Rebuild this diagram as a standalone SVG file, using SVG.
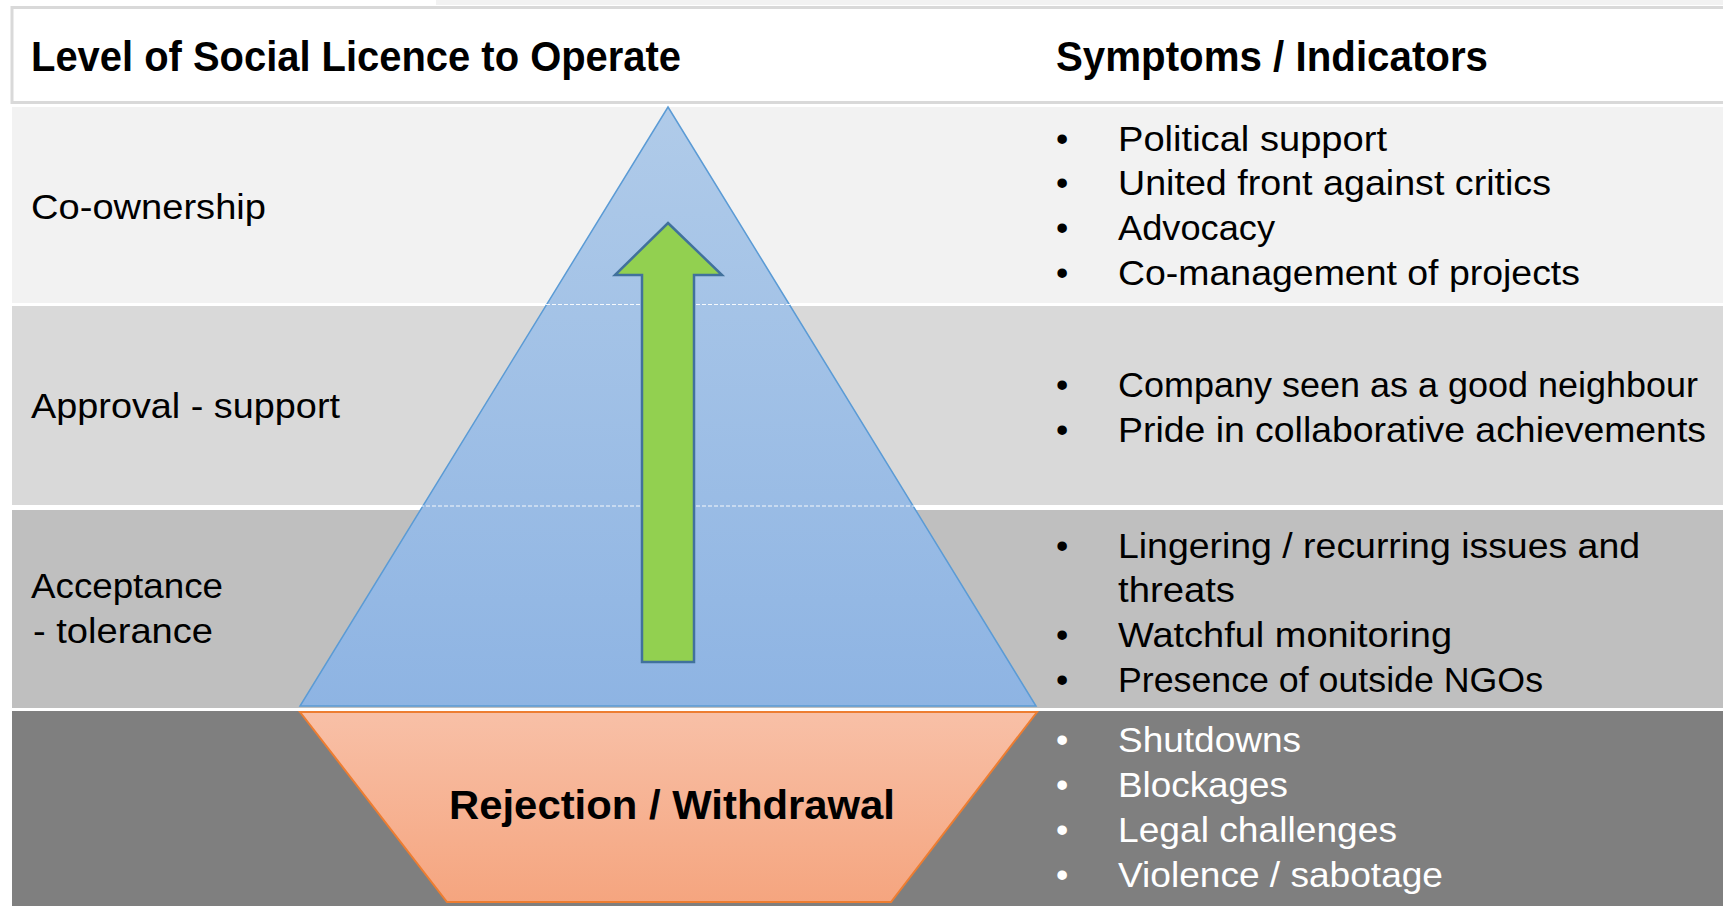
<svg xmlns="http://www.w3.org/2000/svg" width="1723" height="906" viewBox="0 0 1723 906">
<style>
.t{font-family:"Liberation Sans",Arial,sans-serif;font-size:35px;fill:#000}
.h{font-family:"Liberation Sans",Arial,sans-serif;font-size:43px;font-weight:bold;fill:#000}
.b{font-family:"Liberation Sans",Arial,sans-serif;font-size:35px;fill:#000}
.b.w{fill:#fff}
</style>
<defs>
<linearGradient id="gBlue" x1="0" y1="0" x2="0" y2="1">
<stop offset="0" stop-color="#b0cbe9"/>
<stop offset="1" stop-color="#8eb4e3"/>
</linearGradient>
<linearGradient id="gOrange" x1="0" y1="0" x2="0" y2="1">
<stop offset="0" stop-color="#f8c0a7"/>
<stop offset="1" stop-color="#f5a57f"/>
</linearGradient>
</defs>
<rect width="1723" height="906" fill="#fff"/>
<rect x="436" y="0" width="1287" height="5" fill="#f2f2f2"/>
<g id="header">
<rect x="12" y="7.5" width="1713" height="95" fill="#fff" stroke="#d9d9d9" stroke-width="3"/>
<text class="h" x="31" y="71" textLength="650" lengthAdjust="spacingAndGlyphs">Level of Social Licence to Operate</text>
<text class="h" x="1056" y="71" textLength="432" lengthAdjust="spacingAndGlyphs">Symptoms / Indicators</text>
</g>
<g id="row-coownership">
<rect x="12" y="107" width="1711" height="196" fill="#f2f2f2"/>
<text class="t" x="31" y="219" textLength="235" lengthAdjust="spacingAndGlyphs">Co-ownership</text>
</g>
<g id="row-approval">
<rect x="12" y="306" width="1711" height="199" fill="#d9d9d9"/>
<text class="t" x="31" y="418" textLength="309" lengthAdjust="spacingAndGlyphs">Approval - support</text>
</g>
<g id="row-acceptance">
<rect x="12" y="510" width="1711" height="198" fill="#bfbfbf"/>
<text class="t" x="31" y="598" textLength="192" lengthAdjust="spacingAndGlyphs">Acceptance</text>
<text class="t" x="33" y="643" textLength="180" lengthAdjust="spacingAndGlyphs">- tolerance</text>
</g>
<g id="row-rejection">
<rect x="12" y="711" width="1711" height="195" fill="#7f7f7f"/>
</g>
<g id="pyramid">
<polygon points="668,107 1036,706 300,706" fill="url(#gBlue)" stroke="#5b9bd5" stroke-width="1.5"/>
</g>
<g id="dividers" stroke="#fff" stroke-width="1.2" stroke-dasharray="4 2" fill="none" opacity="0.9">
<line x1="12" y1="304.5" x2="1723" y2="304.5"/>
<line x1="12" y1="506" x2="1723" y2="506"/>
</g>
<g id="trapezoid">
<polygon points="300,712 1037,712 891,902 447,902" fill="url(#gOrange)" stroke="#ed7d31" stroke-width="2"/>
<text class="h" x="449" y="819" textLength="446" lengthAdjust="spacingAndGlyphs" style="font-size:40px">Rejection / Withdrawal</text>
</g>
<g id="connectors">
<polygon points="668,223 722,275 694,275 694,662 642,662 642,275 615,275" fill="#92d050" stroke="#41719c" stroke-width="2.5" stroke-linejoin="miter"/>
</g>
<g id="symptoms-coownership">
<text class="b" x="1056" y="151">•</text><text class="b" x="1118" y="151" textLength="269" lengthAdjust="spacingAndGlyphs">Political support</text>
<text class="b" x="1056" y="195">•</text><text class="b" x="1118" y="195" textLength="433" lengthAdjust="spacingAndGlyphs">United front against critics</text>
<text class="b" x="1056" y="240">•</text><text class="b" x="1118" y="240" textLength="157" lengthAdjust="spacingAndGlyphs">Advocacy</text>
<text class="b" x="1056" y="285">•</text><text class="b" x="1118" y="285" textLength="462" lengthAdjust="spacingAndGlyphs">Co-management of projects</text>
</g>
<g id="symptoms-approval">
<text class="b" x="1056" y="397">•</text><text class="b" x="1118" y="397" textLength="580" lengthAdjust="spacingAndGlyphs">Company seen as a good neighbour</text>
<text class="b" x="1056" y="442">•</text><text class="b" x="1118" y="442" textLength="588" lengthAdjust="spacingAndGlyphs">Pride in collaborative achievements</text>
</g>
<g id="symptoms-acceptance">
<text class="b" x="1056" y="558">•</text><text class="b" x="1118" y="558" textLength="522" lengthAdjust="spacingAndGlyphs">Lingering / recurring issues and</text>
<text class="b" x="1118" y="602" textLength="117" lengthAdjust="spacingAndGlyphs">threats</text>
<text class="b" x="1056" y="647">•</text><text class="b" x="1118" y="647" textLength="334" lengthAdjust="spacingAndGlyphs">Watchful monitoring</text>
<text class="b" x="1056" y="692">•</text><text class="b" x="1118" y="692" textLength="425" lengthAdjust="spacingAndGlyphs">Presence of outside NGOs</text>
</g>
<g id="symptoms-rejection">
<text class="b w" x="1056" y="752">•</text><text class="b w" x="1118" y="752" textLength="183" lengthAdjust="spacingAndGlyphs">Shutdowns</text>
<text class="b w" x="1056" y="797">•</text><text class="b w" x="1118" y="797" textLength="170" lengthAdjust="spacingAndGlyphs">Blockages</text>
<text class="b w" x="1056" y="842">•</text><text class="b w" x="1118" y="842" textLength="279" lengthAdjust="spacingAndGlyphs">Legal challenges</text>
<text class="b w" x="1056" y="887">•</text><text class="b w" x="1118" y="887" textLength="325" lengthAdjust="spacingAndGlyphs">Violence / sabotage</text>
</g>
</svg>
